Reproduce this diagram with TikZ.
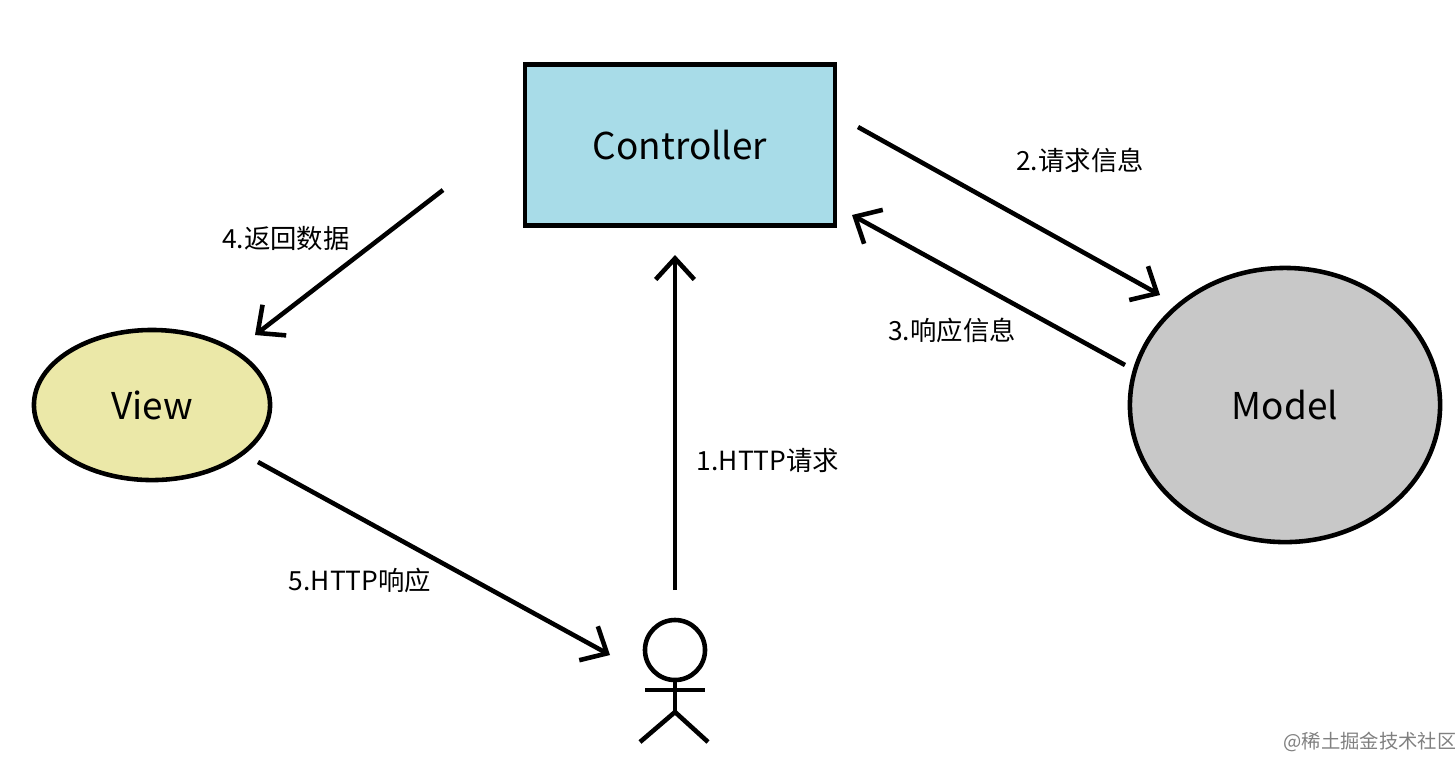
\documentclass[tikz,border=0pt]{standalone}
\usepackage{fontspec}
\setmainfont{Noto Sans CJK SC}
\usetikzlibrary{arrows.meta,shapes.geometric}
\definecolor{ctrlblue}{HTML}{A8DCE8}
\definecolor{viewyel}{HTML}{EBE8A8}
\definecolor{modgray}{HTML}{C8C8C8}
\tikzset{
  flow/.style={line width=1.3pt,-{Straight Barb[length=6pt,width=11pt,line width=1.3pt]}},
  lbl/.style={font=\fontsize{7.5}{9}\selectfont},
  part/.style={draw,line width=1.3pt,font=\fontsize{10.5}{12}\selectfont}
}
\begin{document}
\begin{tikzpicture}[x=0.01cm,y=-0.01cm]
            \useasboundingbox (0,0) rectangle (1455,759);
            % parts
            \node[part,fill=ctrlblue,minimum width=3.1cm,minimum height=1.61cm] (ctrl) at (680,145) {Controller};
            \node[part,fill=viewyel,ellipse,minimum width=2.36cm,minimum height=1.5cm] (view) at (152,405) {View};
            \node[part,fill=modgray,ellipse,minimum width=3.1cm,minimum height=2.74cm] (model) at (1285,405) {Model};

            % user
            \node[draw,circle,line width=1.3pt,minimum size=0.6cm,inner sep=0pt] (head) at (675,650) {};
            \coordinate (hip) at (675,712);
            \draw[line width=1.3pt] (head.south) -- (hip);
            \draw[line width=1.3pt] (645,690) -- (705,690);
            \draw[line width=1.3pt] (640,742) -- (hip) -- (708,742);

            % flows
            \coordinate (u1) at (675,590); \coordinate (c1) at (675,255);
            \coordinate (c2) at (858,127); \coordinate (m2) at (1160,295);
            \coordinate (m3) at (1125,365); \coordinate (c3) at (852,215);
            \coordinate (c4) at (443,190); \coordinate (v4) at (255,335);
            \coordinate (v5) at (258,462); \coordinate (u5) at (610,655);
            \draw[flow] (u1) -- (c1);
            \draw[flow] (c2) -- (m2);
            \draw[flow] (m3) -- (c3);
            \draw[flow] (c4) -- (v4);
            \draw[flow] (v5) -- (u5);

            \node[lbl] (l1) at (768,460) {1.HTTP请求};
            \node[lbl] (l2) at (1080,160) {2.请求信息};
            \node[lbl] (l3) at (952,330) {3.响应信息};
            \node[lbl] (l4) at (286,238) {4.返回数据};
            \node[lbl] (l5) at (360,580) {5.HTTP响应};
            \node[font=\fontsize{5.5}{7}\selectfont,text=gray] (wm) at (1370,742) {@稀土掘金技术社区};
\end{tikzpicture}
\end{document}
